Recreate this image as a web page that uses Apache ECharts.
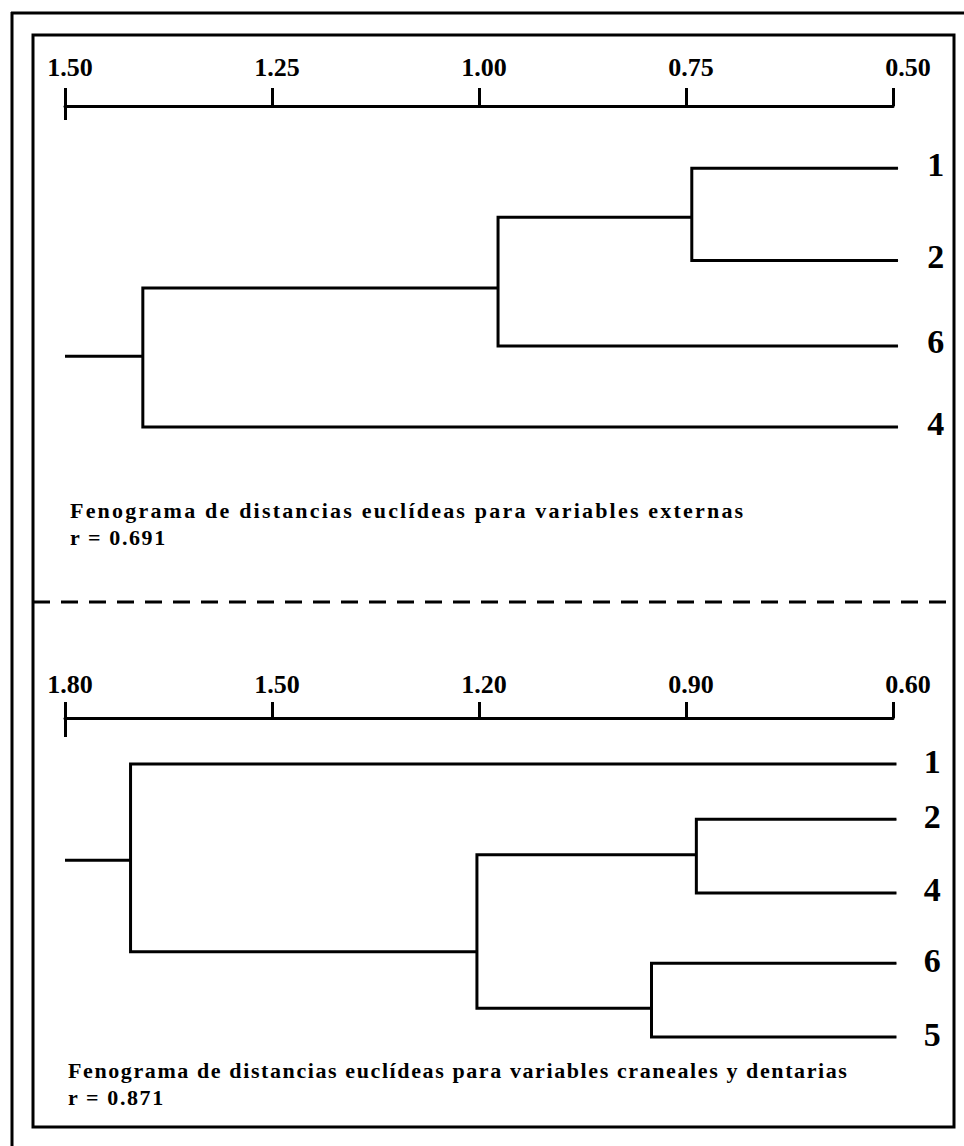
<!DOCTYPE html>
<html>
<head>
<meta charset="utf-8">
<script src="https://cdn.jsdelivr.net/npm/echarts@6/dist/echarts.min.js"></script>
<style>
  html, body { margin: 0; padding: 0; background: #fff; }
  #c { width: 964px; height: 1146px; }
</style>
</head>
<body>
<div id="c"></div>
<script>
// ---------- DATA ----------
// Upper phenogram: external variables
const topTicks = [1.50, 1.25, 1.00, 0.75, 0.50];
const topLeaves = ['1', '2', '6', '4'];
const topLeafRows = [0, 1.07, 2.06, 3.0];
const topLeafTip = 0.494;
// merges: node indices 0..3 are leaves, 4.. are merges in order
const topMergeA = [0, 4, 5];
const topMergeB = [1, 2, 3];
const topMergeHeights = [0.743, 0.977, 1.406];
const topMergeRows = [0.57, 1.39, 2.18];
const topCaption = 'Fenograma de distancias euclídeas para variables externas';
const topR = 'r = 0.691';

// Lower phenogram: cranial and dental variables
const lowTicks = [1.80, 1.50, 1.20, 0.90, 0.60];
const lowLeaves = ['1', '2', '4', '6', '5'];
const lowLeafRows = [0, 0.81, 1.89, 2.92, 4.0];
const lowLeafTip = 0.595;
const lowMergeA = [1, 3, 5, 0];
const lowMergeB = [2, 4, 6, 7];
const lowMergeHeights = [0.885, 0.950, 1.203, 1.705];
const lowMergeRows = [1.33, 3.58, 2.75, 1.41];
const lowCaption = 'Fenograma de distancias euclídeas para variables craneales y dentarias';
const lowR = 'r = 0.871';

// ---------- BUILD ----------
function buildLinks(leafRows, leafTip, mA, mB, mH, mR, rootEnd) {
  const n = leafRows.length;
  const pos = i => (i < n ? leafRows[i] : mR[i - n]);
  const hgt = i => (i < n ? leafTip : mH[i - n]);
  const links = [];
  for (let k = 0; k < mA.length; k++) {
    const a = mA[k], b = mB[k], h = mH[k];
    links.push({ coords: [[hgt(a), pos(a)], [h, pos(a)], [h, pos(b)], [hgt(b), pos(b)]] });
  }
  const r = mA.length - 1;
  links.push({ coords: [[mH[r], mR[r]], [rootEnd, mR[r]]] });
  return links;
}

const SERIF = '"Liberation Serif", "Times New Roman", serif';
const lineStyle = { color: '#000', width: 3, opacity: 1, curveness: 0 };

function mainX(gridIndex, ticks, interval, margin, tickLen) {
  const last = ticks[ticks.length - 1];
  return {
    type: 'value', gridIndex, position: 'top', inverse: true,
    min: last, max: ticks[0], interval,
    axisLine: { show: true, onZero: false, lineStyle: { color: '#000', width: 3 } },
    axisTick: { show: true, inside: false, length: tickLen, customValues: ticks,
                lineStyle: { color: '#000', width: 3 } },
    axisLabel: { show: true, customValues: ticks, margin,
                 formatter: v => (Math.abs(v - last) < 1e-9 ? '{end|' + v.toFixed(2) + '}' : v.toFixed(2)),
                 padding: [0, 0, 0, 10],
                 rich: { end: { padding: [0, 0, 0, 20], color: '#000', fontFamily: SERIF, fontWeight: 'bold', fontSize: 26 } },
                 color: '#000', fontFamily: SERIF, fontWeight: 'bold', fontSize: 26 },
    splitLine: { show: false }
  };
}
function endTickX(gridIndex, ticks, len) {
  return {
    type: 'value', gridIndex, position: 'top', inverse: true,
    min: ticks[ticks.length - 1], max: ticks[0],
    axisLine: { show: false, onZero: false },
    axisTick: { show: true, inside: true, length: len, customValues: [ticks[0]],
                lineStyle: { color: '#000', width: 3 } },
    axisLabel: { show: false },
    splitLine: { show: false }
  };
}
function leafLabels(leaves, rows, tip) {
  return leaves.map((name, i) => [tip, rows[i], name]);
}
function leafSeries(xi, yi, data, distance, dy) {
  return {
    type: 'scatter', xAxisIndex: xi, yAxisIndex: yi, symbol: 'circle', symbolSize: 0.5, clip: false,
    itemStyle: { color: '#000', opacity: 1 }, silent: true,
    label: { show: true, position: 'right', distance, offset: [0, dy], opacity: 1,
             formatter: p => p.data[2], color: '#000', fontFamily: SERIF, fontWeight: 'bold', fontSize: 34 },
    emphasis: { disabled: true },
    data
  };
}

const option = {
  backgroundColor: '#fff',
  animation: false,
  title: [
    { text: topCaption + '\n' + topR, left: 70, top: 497, padding: 0,
      textStyle: { fontFamily: SERIF, fontWeight: 'bold', fontSize: 22, lineHeight: 27, color: '#000' } },
    { text: lowCaption + '\n' + lowR, left: 68, top: 1057, padding: 0,
      textStyle: { fontFamily: SERIF, fontWeight: 'bold', fontSize: 22, lineHeight: 27, color: '#000' } }
  ],
  grid: [
    { left: 65, right: 71, top: 106, height: (3.5 + 0.72) * 86.3, outerBoundsMode: 'none', containLabel: false },
    { left: 65, right: 71, top: 718, height: (4.6 + 0.674) * 68.25, outerBoundsMode: 'none', containLabel: false }
  ],
  xAxis: [
    mainX(0, topTicks, 0.25, 26, 18),
    endTickX(0, topTicks, 14),
    mainX(1, lowTicks, 0.3, 21, 16),
    endTickX(1, lowTicks, 19)
  ],
  yAxis: [
    { type: 'value', gridIndex: 0, inverse: true, min: -0.72, max: 3.5, show: false },
    { type: 'value', gridIndex: 1, inverse: true, min: -0.674, max: 4.6, show: false }
  ],
  series: [
    { type: 'lines', coordinateSystem: 'cartesian2d', xAxisIndex: 0, yAxisIndex: 0,
      polyline: true, silent: true, clip: false, lineStyle,
      data: buildLinks(topLeafRows, topLeafTip, topMergeA, topMergeB, topMergeHeights, topMergeRows, topTicks[0]) },
    { type: 'lines', coordinateSystem: 'cartesian2d', xAxisIndex: 2, yAxisIndex: 1,
      polyline: true, silent: true, clip: false, lineStyle,
      data: buildLinks(lowLeafRows, lowLeafTip, lowMergeA, lowMergeB, lowMergeHeights, lowMergeRows, lowTicks[0]) },
    leafSeries(0, 0, leafLabels(topLeaves, topLeafRows, topLeafTip), 29, -4),
    leafSeries(2, 1, leafLabels(lowLeaves, lowLeafRows, lowLeafTip), 27, -3)
  ],
  graphic: [
    { type: 'line', silent: true, shape: { x1: 11, y1: 13, x2: 964, y2: 13 }, style: { stroke: '#000', lineWidth: 3 } },
    { type: 'line', silent: true, shape: { x1: 12, y1: 12, x2: 12, y2: 1146 }, style: { stroke: '#000', lineWidth: 3 } },
    { type: 'rect', silent: true, shape: { x: 33, y: 35, width: 921, height: 1092 }, style: { fill: 'none', stroke: '#000', lineWidth: 3 } },
    { type: 'line', silent: true, shape: { x1: 33, y1: 602, x2: 954, y2: 602 }, style: { stroke: '#000', lineWidth: 3, lineDash: [17, 11] } }
  ]
};

const chart = echarts.init(document.getElementById('c'), null, { renderer: 'svg' });
chart.setOption(option);

function spaceCaptions() {
  document.querySelectorAll('#c text').forEach(t => {
    const s = t.textContent || '';
    if (s.indexOf('Fenograma') === 0 && s.indexOf('externas') > 0) t.style.letterSpacing = '2.2px';
    else if (s.indexOf('Fenograma') === 0) t.style.letterSpacing = '1.6px';
    else if (s.indexOf('r =') === 0) t.style.letterSpacing = '1.6px';
  });
}
chart.on('finished', spaceCaptions);
setTimeout(spaceCaptions, 50);
</script>
</body>
</html>
